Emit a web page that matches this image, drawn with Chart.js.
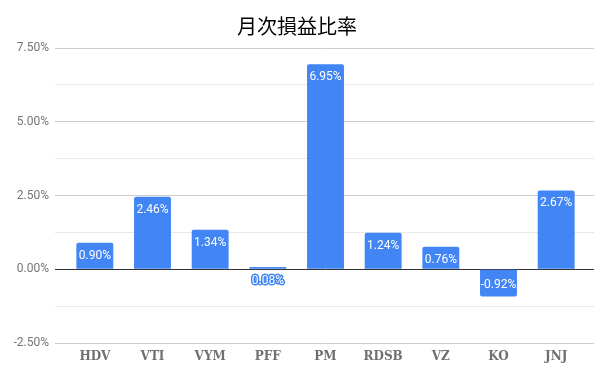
<!DOCTYPE html>
<html lang="ja">
<head>
    <meta charset="UTF-8">
    <title>月次損益比率</title>
    <script src="https://cdn.jsdelivr.net/npm/chart.js"></script>
    <style>
        body { margin: 0; padding: 0; background: #fff; }
        .chart-container { width: 600px; height: 371px; position: relative; }
    </style>
</head>
<body>

<div class="chart-container">
    <canvas id="profitChart"></canvas>
</div>

<script>
    // 銘柄と月次損益比率(%)
    const tickers = ['HDV', 'VTI', 'VYM', 'PFF', 'PM', 'RDSB', 'VZ', 'KO', 'JNJ'];
    const ratios = [0.90, 2.46, 1.34, 0.08, 6.95, 1.24, 0.76, -0.92, 2.67];
    const yMin = -2.5;
    const yMax = 7.5;
    const yStep = 1.25;

    const barColor = '#4285F4';

    // グリッド線の色: 0 は黒、2.5刻みは濃いめ、間は薄く
    function gridColor(ctx) {
        const v = ctx.tick ? ctx.tick.value : null;
        if (v === 0) return '#333333';
        if (v !== null && Math.abs(v / 2.5 - Math.round(v / 2.5)) < 1e-6) return '#cccccc';
        return '#e8e8e8';
    }

    // 棒の中に値を書く
    const valueLabels = {
        id: 'valueLabels',
        afterDatasetsDraw(chart) {
            const c = chart.ctx;
            const meta = chart.getDatasetMeta(0);
            c.save();
            c.font = '12px Roboto';
            c.textAlign = 'center';
            c.textBaseline = 'middle';
            meta.data.forEach((bar, i) => {
                const v = ratios[i];
                const text = v.toFixed(2) + '%';
                const h = Math.abs(bar.base - bar.y);
                if (h >= 18) {
                    const ty = v >= 0 ? bar.y + 13 : bar.y - 11;
                    c.fillStyle = '#ffffff';
                    c.fillText(text, bar.x, ty);
                } else {
                    const ty = bar.base + 12;
                    c.lineWidth = 3;
                    c.lineJoin = 'round';
                    c.strokeStyle = barColor;
                    c.strokeText(text, bar.x, ty);
                    c.fillStyle = '#ffffff';
                    c.fillText(text, bar.x, ty);
                }
            });
            c.restore();
        }
    };

    const ctx = document.getElementById('profitChart').getContext('2d');
    new Chart(ctx, {
        type: 'bar',
        data: {
            labels: tickers,
            datasets: [{
                data: ratios,
                backgroundColor: barColor,
                borderRadius: 2,
                borderSkipped: 'start',
                barPercentage: 0.64,
                categoryPercentage: 1.0,
                yAxisID: 'y'
            }]
        },
        options: {
            responsive: true,
            maintainAspectRatio: false,
            animation: false,
            layout: {
                padding: { left: 0, right: 6, top: 0, bottom: 0 }
            },
            plugins: {
                legend: { display: false },
                tooltip: { enabled: false },
                title: {
                    display: true,
                    text: '月次損益比率',
                    color: '#000000',
                    font: { family: '"Noto Sans CJK JP"', size: 20, weight: 'normal' },
                    padding: { top: 14, bottom: 10 }
                }
            },
            scales: {
                x: {
                    grid: { display: false, drawTicks: false },
                    border: { display: false },
                    ticks: {
                        color: '#6f6f6f',
                        font: { family: '"DejaVu Serif"', size: 12, weight: 'bold' },
                        padding: 7,
                        maxRotation: 0
                    },
                    afterFit(scale) { scale.height = 28; }
                },
                y: {
                    position: 'left',
                    min: yMin,
                    max: yMax,
                    border: { display: false },
                    grid: {
                        color: gridColor,
                        tickColor: gridColor,
                        drawTicks: true,
                        tickLength: 11
                    },
                    ticks: {
                        stepSize: yStep,
                        color: '#757575',
                        font: { family: 'Roboto', size: 12 },
                        padding: 6,
                        callback: (v) => Math.abs(v / 2.5 - Math.round(v / 2.5)) < 1e-6 ? v.toFixed(2) + '%' : ''
                    },
                    afterFit(scale) { scale.width = 66; }
                },
                // 右端のグリッド線の延長だけに使う
                yRight: {
                    position: 'right',
                    min: yMin,
                    max: yMax,
                    border: { display: false },
                    grid: {
                        color: gridColor,
                        tickColor: gridColor,
                        drawOnChartArea: false,
                        drawTicks: true,
                        tickLength: 9
                    },
                    ticks: { stepSize: yStep, display: false },
                    afterFit(scale) { scale.width = 9; }
                }
            }
        },
        plugins: [valueLabels]
    });
</script>

</body>
</html>
